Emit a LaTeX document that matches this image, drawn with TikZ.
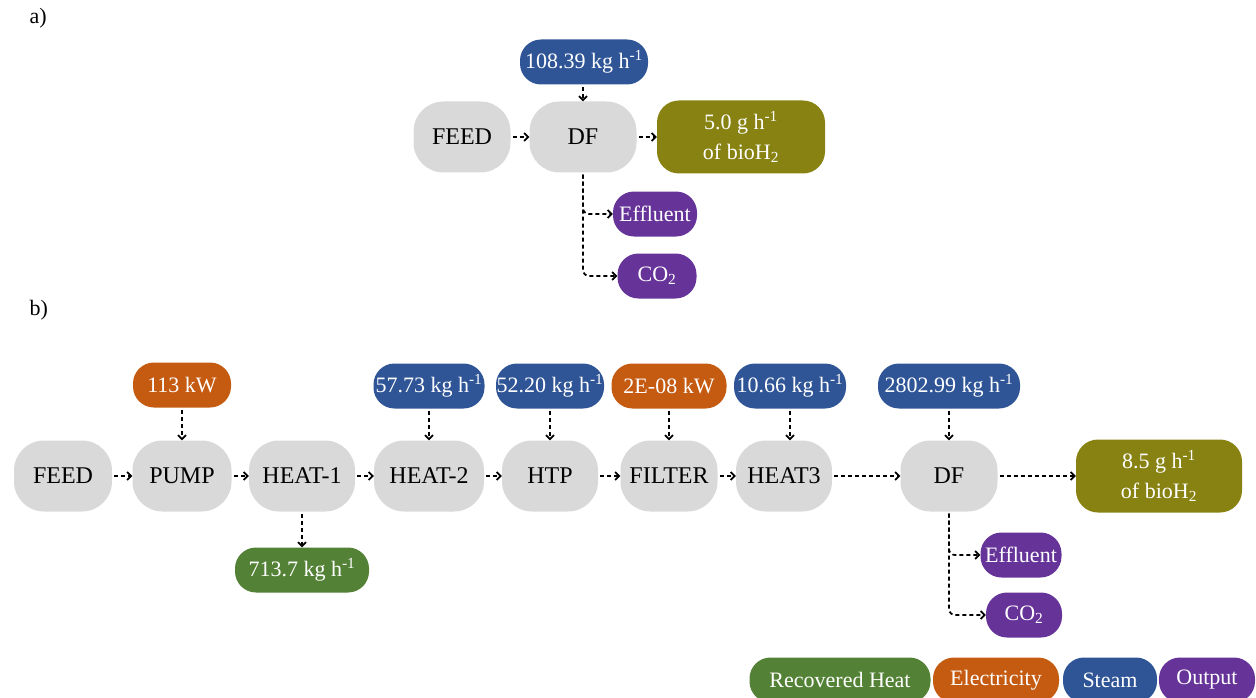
\documentclass[tikz,border=0pt]{standalone}
\usepackage{fontspec}
\setmainfont{Liberation Serif}
\usetikzlibrary{arrows.meta}
\definecolor{procgrey}{HTML}{D9D9D9}
\definecolor{steamblue}{HTML}{2F5597}
\definecolor{elecorange}{HTML}{C55A11}
\definecolor{heatgreen}{HTML}{538135}
\definecolor{outpurple}{HTML}{663399}
\definecolor{hyolive}{HTML}{878212}
\tikzset{
  base/.style={rectangle, inner sep=0pt, draw=none, align=center},
  proc/.style={base, fill=procgrey, text=black, minimum height=71pt, rounded corners=30pt,
    font=\fontsize{24}{28}\selectfont},
  tag/.style={base, text=white, minimum height=45pt, rounded corners=21pt,
    font=\fontsize{22}{26}\selectfont},
  steamtag/.style={tag, fill=steamblue},
  electag/.style={tag, fill=elecorange},
  heattag/.style={tag, fill=heatgreen},
  outtag/.style={tag, fill=outpurple},
  h2tag/.style={base, fill=hyolive, text=white, minimum height=73pt, rounded corners=22pt,
    font=\fontsize{22}{30}\selectfont},
  panel/.style={font=\fontsize{22}{26}\selectfont, anchor=west},
  flow/.style={draw=black, line width=1.7pt, dash pattern=on 4pt off 3pt,
    -{Straight Barb[length=4pt,width=8pt]}, shorten <=2pt},
  branch/.style={flow, rounded corners=6pt},
}
\newcommand{\perh}{h\textsuperscript{-1}}
\begin{document}
\begin{tikzpicture}[x=1pt,y=-1pt]
\useasboundingbox (0,0) rectangle (1256,698);

% ---------- panel a) ----------
\node[panel] (la) at (26,18) {a)};
\node[proc, minimum width=97pt] (aFeed) at (462,137) {FEED};
\node[proc, minimum width=107pt] (aDF) at (583,137) {DF};
\node[steamtag, minimum width=128pt] (aSteam) at (584,62) {108.39 kg \perh};
\node[h2tag, minimum width=168pt] (aH2) at (741,137) {5.0 g \perh\\of bioH\textsubscript{2}};
\node[outtag, minimum width=84pt] (aEff) at (655,214) {Effluent};
\node[outtag, minimum width=79pt] (aCO) at (657,276) {CO\textsubscript{2}};

\draw[flow] (aFeed) -- (aDF);
\draw[flow] (aDF) -- (aH2);
\draw[flow] (aSteam.south -| aDF.north) -- (aDF.north);
\draw[branch] (aDF.south) |- (aEff.west);
\draw[branch] (aDF.south) |- (aCO.west);

% ---------- panel b) ----------
\node[panel] (lb) at (26,310) {b)};
\node[proc, minimum width=98pt] (bFeed) at (63,476) {FEED};
\node[proc, minimum width=99pt] (bPump) at (182,476) {PUMP};
\node[proc, minimum width=106pt] (bHeatA) at (302,476) {HEAT-1};
\node[proc, minimum width=110pt] (bHeatB) at (429,476) {HEAT-2};
\node[proc, minimum width=96pt] (bHTP) at (550,476) {HTP};
\node[proc, minimum width=97pt] (bFilter) at (669,476) {FILTER};
\node[proc, minimum width=96pt] (bHeatC) at (784,476) {HEAT3};
\node[proc, minimum width=97pt] (bDF) at (949,476) {DF};
\node[h2tag, minimum width=166pt] (bH2) at (1159,476) {8.5 g \perh\\of bioH\textsubscript{2}};

\node[electag, minimum width=98pt] (ePump) at (182,385) {113 kW};
\node[steamtag, minimum width=111pt] (sHeatB) at (429,386) {57.73 kg \perh};
\node[steamtag, minimum width=108pt] (sHTP) at (550,386) {52.20 kg \perh};
\node[electag, minimum width=115pt] (eFilter) at (669,386) {2E-08 kW};
\node[steamtag, minimum width=112pt] (sHeatC) at (790,386) {10.66 kg \perh};
\node[steamtag, minimum width=142pt] (sDF) at (949,386) {2802.99 kg \perh};
\node[heattag, minimum width=134pt] (rHeatA) at (302,570) {713.7 kg \perh};
\node[outtag, minimum width=81pt] (bEff) at (1021,555) {Effluent};
\node[outtag, minimum width=76pt] (bCO) at (1024,615) {CO\textsubscript{2}};

\draw[flow] (bFeed) -- (bPump);
\draw[flow] (bPump) -- (bHeatA);
\draw[flow] (bHeatA) -- (bHeatB);
\draw[flow] (bHeatB) -- (bHTP);
\draw[flow] (bHTP) -- (bFilter);
\draw[flow] (bFilter) -- (bHeatC);
\draw[flow] (bHeatC) -- (bDF);
\draw[flow] (bDF) -- (bH2);

\draw[flow] (ePump) -- (bPump);
\draw[flow] (sHeatB) -- (bHeatB);
\draw[flow] (sHTP) -- (bHTP);
\draw[flow] (eFilter) -- (bFilter);
\draw[flow] (sHeatC.south) -- (sHeatC.south |- bHeatC.north);
\draw[flow] (sDF) -- (bDF);
\draw[flow] (bHeatA) -- (rHeatA);
\draw[branch] (bDF.south) |- (bEff.west);
\draw[branch] (bDF.south) |- (bCO.west);

% ---------- legend ----------
\node[heattag, minimum width=181pt] (kHeat) at (840,680) {Recovered Heat};
\node[electag, minimum width=126pt] (kElec) at (996,680) {Electricity};
\node[steamtag, minimum width=94pt] (kSteam) at (1110,680) {Steam};
\node[outtag, minimum width=96pt] (kOut) at (1207,680) {Output};
\end{tikzpicture}
\end{document}
